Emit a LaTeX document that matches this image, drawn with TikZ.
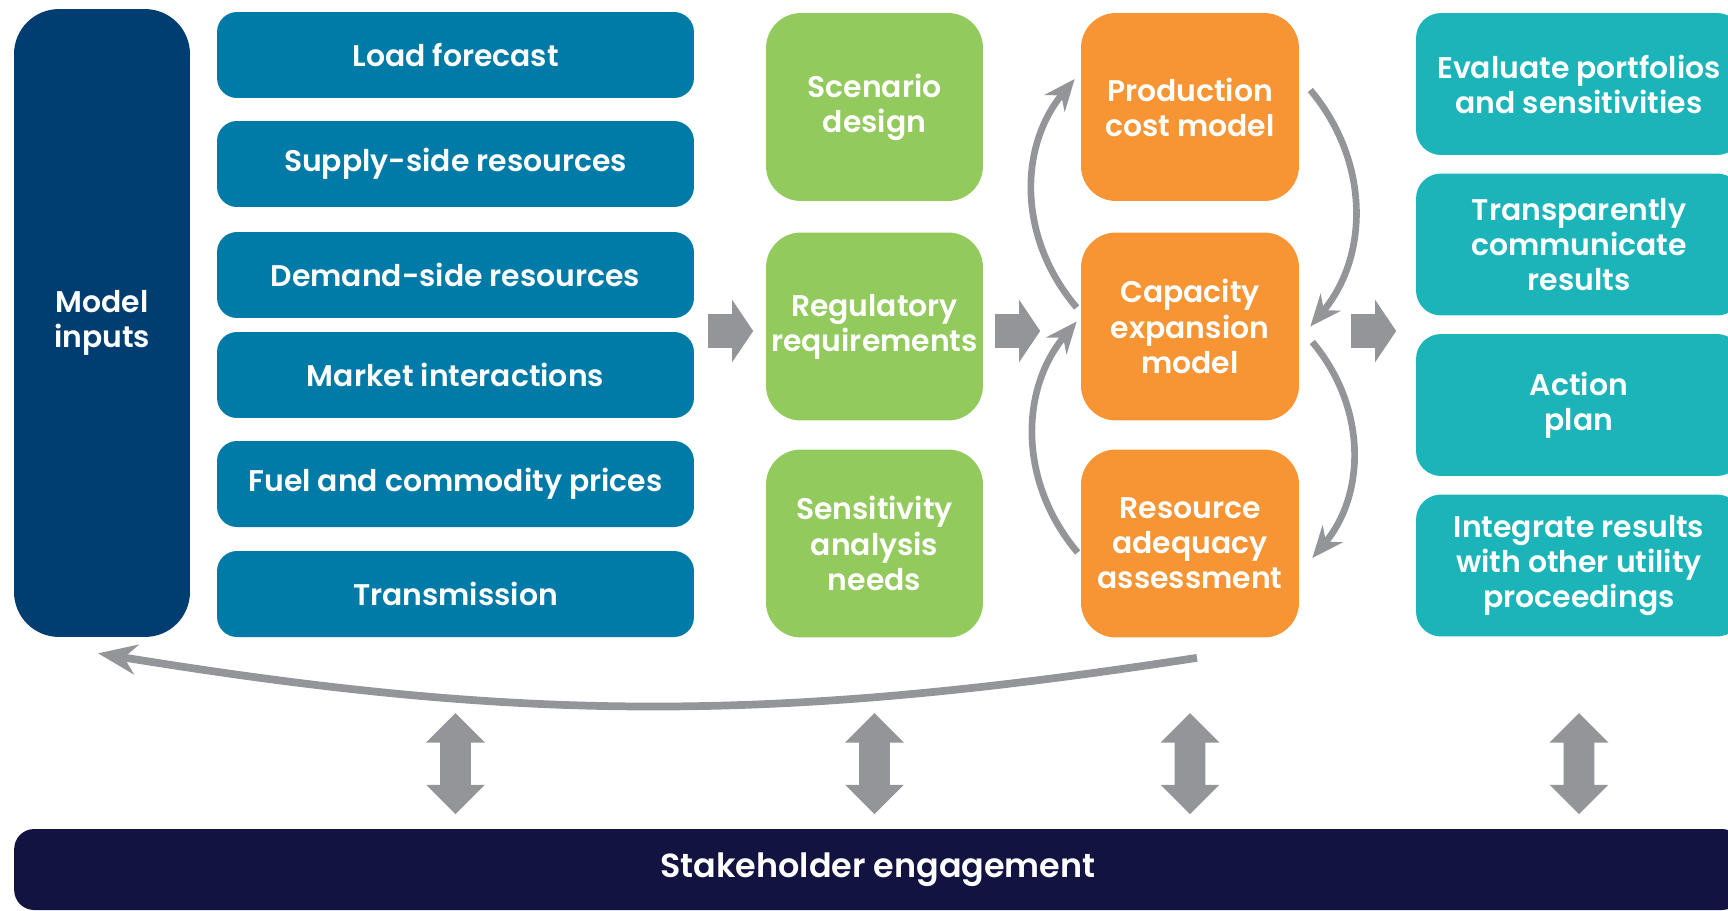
\documentclass[tikz,border=0pt]{standalone}
\usepackage{fontspec}
\setmainfont{Poppins}[UprightFont=* Medium, BoldFont=* SemiBold]
\usepackage{tikz}
\usetikzlibrary{shapes.geometric,shapes.arrows,arrows.meta,positioning}
\usepackage{xcolor}
\definecolor{inputnavy}{HTML}{003D71}
\definecolor{inputblue}{HTML}{007AA6}
\definecolor{designgreen}{HTML}{93CA5D}
\definecolor{modelorange}{HTML}{F79433}
\definecolor{resultteal}{HTML}{1BB5B9}
\definecolor{stakenavy}{HTML}{131342}
\definecolor{arrowgray}{HTML}{939598}

\begin{document}
\begin{tikzpicture} [
      x = 0.02cm, y = -0.02cm,
      every node/.style = { text = white, align = center, inner sep = 0, font = \fontsize{17}{20}\selectfont\bfseries },
      tall/.style = { fill = inputnavy, rounded corners = 0.9cm, minimum width = 3.52cm, minimum height = 12.56cm },
      input/.style = { fill = inputblue, rounded corners = 0.4cm, minimum width = 9.54cm, minimum height = 1.72cm },
      design/.style = { fill = designgreen, rounded corners = 0.7cm, minimum width = 4.34cm, minimum height = 3.76cm },
      model/.style = { fill = modelorange, rounded corners = 0.7cm, minimum width = 4.36cm, minimum height = 3.76cm },
      result/.style = { fill = resultteal, rounded corners = 0.5cm, minimum width = 6.52cm, minimum height = 2.84cm },
      stakebar/.style = { fill = stakenavy, rounded corners = 0.4cm, minimum width = 34.56cm, minimum height = 1.62cm, font = \fontsize{19}{22}\selectfont\bfseries },
      push/.style = { single arrow, fill = arrowgray, text height = 0.33cm, text depth = 0.33cm, minimum height = 0.9cm, single arrow head extend = 0.29cm, single arrow tip angle = 112 },
      twoway/.style = { double arrow, fill = arrowgray, rotate = 90, text height = 0.3cm, text depth = 0.3cm, minimum height = 2.02cm, double arrow head extend = 0.28cm },
      loop/.style = { draw = arrowgray, line width = 3.8pt, -{Stealth[length = 18pt, width = 15pt, inset = 6pt]} }
      ]

      \useasboundingbox (0,0) rectangle (1728,910);

      \node [tall] (inputs) at (102,323) {Model\\inputs};
      \node [input] (load) at (455.5,55) {Load forecast};
      \node [input] (supply) at (455.5,164) {Supply-side resources};
      \node [input] (demand) at (455.5,275) {Demand-side resources};
      \node [input] (market) at (455.5,375) {Market interactions};
      \node [input] (fuel) at (455.5,484) {Fuel and commodity prices};
      \node [input] (trans) at (455.5,594) {Transmission};

      \node [design] (scenario) at (874.5,107) {Scenario\\design};
      \node [design] (regulatory) at (874.5,326.5) {Regulatory\\requirements};
      \node [design] (sensitivity) at (874.5,543.5) {Sensitivity\\analysis\\needs};

      \node [model] (prodcost) at (1190,107) {Production\\cost model};
      \node [model] (capexp) at (1190,326.5) {Capacity\\expansion\\model};
      \node [model] (adequacy) at (1190,543.5) {Resource\\adequacy\\assessment};

      \node [result] (evaluate) at (1579,84) {Evaluate portfolios\\and sensitivities};
      \node [result] (communicate) at (1579,244.5) {Transparently\\communicate\\results};
      \node [result] (plan) at (1579,405) {Action\\plan};
      \node [result] (integrate) at (1579,565.5) {Integrate results\\with other utility\\proceedings};

      \node [stakebar] (stake) at (878,869.5) {Stakeholder engagement};

      \node [push] (push1) at (725,331) {};
      \node [push] (push2) at (1012,331) {};
      \node [push] (push3) at (1368,331) {};

      \foreach \col/\name in {trans/1, regulatory/2, capexp/3, plan/4}
        \node [twoway, anchor = west] (engage\name) at ([yshift = 0.28cm]stake.north -| \col) {};

      \draw [loop] ([shift = {(-4,-19)}]capexp.west) to [bend left = 40] ([shift = {(-6,-28)}]prodcost.west);
      \draw [loop] ([shift = {(-3,9)}]adequacy.west) to [bend left = 40] ([shift = {(-4,-5)}]capexp.west);
      \draw [loop] ([shift = {(11,-17)}]prodcost.east) to [bend left = 40] ([shift = {(11,0)}]capexp.east);
      \draw [loop] ([shift = {(13,15.5)}]capexp.east) to [bend left = 40] ([shift = {(13,14.5)}]adequacy.east);
      \draw [loop, line width = 4.4pt, -{Stealth[length = 22pt, width = 17pt, inset = 7pt]}] ([shift = {(7,20)}]adequacy.south) to [bend left = 9] ([shift = {(-4,16)}]inputs.south);
    \end{tikzpicture}
\end{document}
